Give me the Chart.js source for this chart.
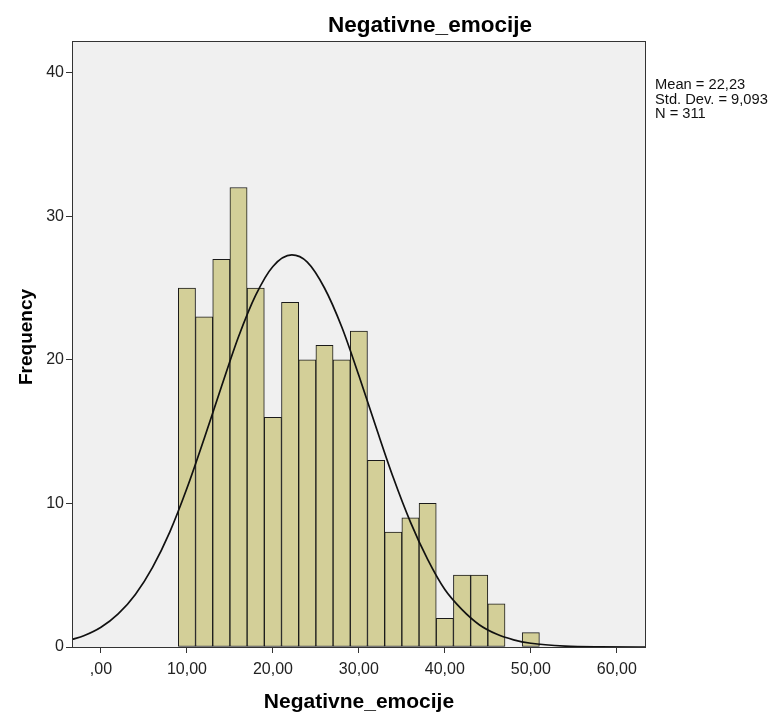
<!DOCTYPE html>
<html>
<head>
<meta charset="utf-8">
<script src="https://cdn.jsdelivr.net/npm/chart.js@4/dist/chart.umd.min.js"></script>
<style>
  body { margin: 0; background: #fff; }
  #wrap { width: 773px; height: 715px; }
</style>
</head>
<body>
<div id="wrap"><canvas id="grafico" width="773" height="715"></canvas></div>
<script>
// histogram bins (width 2), centres and counts
const binCenters = [10, 12, 14, 16, 18, 20, 22, 24, 26, 28, 30, 32, 34, 36, 38, 40, 42, 44, 46, 48, 50];
const frequencies = [25, 23, 27, 32, 25, 16, 24, 20, 21, 20, 22, 13, 8, 9, 10, 2, 5, 5, 3, 0, 1];

// normal curve
const curveX = [-3.4, -2, 0, 2, 4, 6, 8, 10, 12, 14, 16, 18, 20, 22.2, 24, 26, 28, 30, 32, 34, 36, 38, 40, 42, 44, 46, 48, 50, 54, 58, 63.4];
const curveY = [0.52, 0.78, 1.37, 2.3, 3.66, 5.55, 8.0, 11.05, 14.5, 18.1, 21.6, 24.5, 26.5, 27.3, 26.8, 25.0, 22.3, 18.9, 15.3, 11.8, 8.7, 6.1, 4.0, 2.6, 1.55, 0.9, 0.5, 0.26, 0.06, 0.01, 0];

const xTicks = [0, 10, 20, 30, 40, 50, 60];
const yTicks = [0, 10, 20, 30, 40];

const titulo = 'Negativne_emocije';
const eixoX = 'Negativne_emocije';
const eixoY = 'Frequency';
const estatisticas = ['Mean = 22,23', 'Std. Dev. = 9,093', 'N = 311'];

const FONTE = "'Liberation Sans', Arial, sans-serif";

const fundoETextos = {
  id: 'fundoETextos',
  beforeDraw(chart) {
    const { ctx, chartArea: a } = chart;
    ctx.save();
    ctx.fillStyle = '#f0f0f0';
    ctx.fillRect(a.left, a.top, a.right - a.left, a.bottom - a.top);
    ctx.restore();
  },
  afterDraw(chart) {
    const { ctx, chartArea: a } = chart;
    ctx.save();
    // moldura
    ctx.strokeStyle = '#333';
    ctx.lineWidth = 1;
    ctx.strokeRect(a.left + 0.5, a.top + 0.5, a.right - a.left - 1, a.bottom - a.top);

    ctx.fillStyle = '#000';
    ctx.textAlign = 'center';
    ctx.textBaseline = 'alphabetic';
    ctx.font = 'bold 22.5px ' + FONTE;
    ctx.fillText(titulo, 430, 32);

    ctx.font = 'bold 21px ' + FONTE;
    ctx.fillText(eixoX, (a.left + a.right) / 2, 708);

    ctx.save();
    ctx.translate(32, 337);
    ctx.rotate(-Math.PI / 2);
    ctx.font = 'bold 19px ' + FONTE;
    ctx.fillText(eixoY, 0, 0);
    ctx.restore();

    ctx.textAlign = 'left';
    ctx.font = '14.7px ' + FONTE;
    ctx.fillStyle = '#111';
    estatisticas.forEach((linha, i) => {
      ctx.fillText(linha, 655, 89 + i * 14.7);
    });
    ctx.restore();
  }
};

const ctx = document.getElementById('grafico').getContext('2d');

new Chart(ctx, {
  type: 'bar',
  data: {
    datasets: [
      {
        type: 'line',
        data: curveX.map((x, i) => ({ x, y: curveY[i] })),
        borderColor: '#111',
        borderWidth: 1.7,
        pointRadius: 0,
        fill: false,
        cubicInterpolationMode: 'monotone',
        order: 0
      },
      {
        data: binCenters.map((x, i) => ({ x, y: frequencies[i] })),
        backgroundColor: '#d3cf98',
        borderColor: '#1a1a1a',
        borderWidth: 1,
        borderSkipped: false,
        barPercentage: 1,
        categoryPercentage: 1,
        order: 1
      }
    ]
  },
  options: {
    responsive: false,
    animation: false,
    layout: { padding: { left: 0, top: 41, right: 127, bottom: 0 } },
    plugins: {
      legend: { display: false },
      tooltip: { enabled: false },
      title: { display: false }
    },
    scales: {
      x: {
        type: 'linear',
        offset: false,
        min: -3.37,
        max: 63.4,
        afterBuildTicks: scale => { scale.ticks = xTicks.map(v => ({ value: v })); },
        afterFit: scale => { scale.height = 68; },
        border: { display: false },
        grid: { offset: false, drawOnChartArea: false, drawTicks: true, tickLength: 6, color: '#333' },
        ticks: {
          color: '#222',
          font: { family: FONTE, size: 16 },
          padding: 7,
          maxRotation: 0,
          callback: v => (v === 0 ? ',00' : v + ',00')
        }
      },
      y: {
        min: 0,
        max: 42.2,
        afterBuildTicks: scale => { scale.ticks = yTicks.map(v => ({ value: v })); },
        afterFit: scale => { scale.width = 72; },
        border: { display: false },
        grid: { drawOnChartArea: false, drawTicks: true, tickLength: 6, color: '#333' },
        ticks: {
          color: '#222',
          font: { family: FONTE, size: 16 },
          padding: 2
        }
      }
    }
  },
  plugins: [fundoETextos]
});
</script>
</body>
</html>
